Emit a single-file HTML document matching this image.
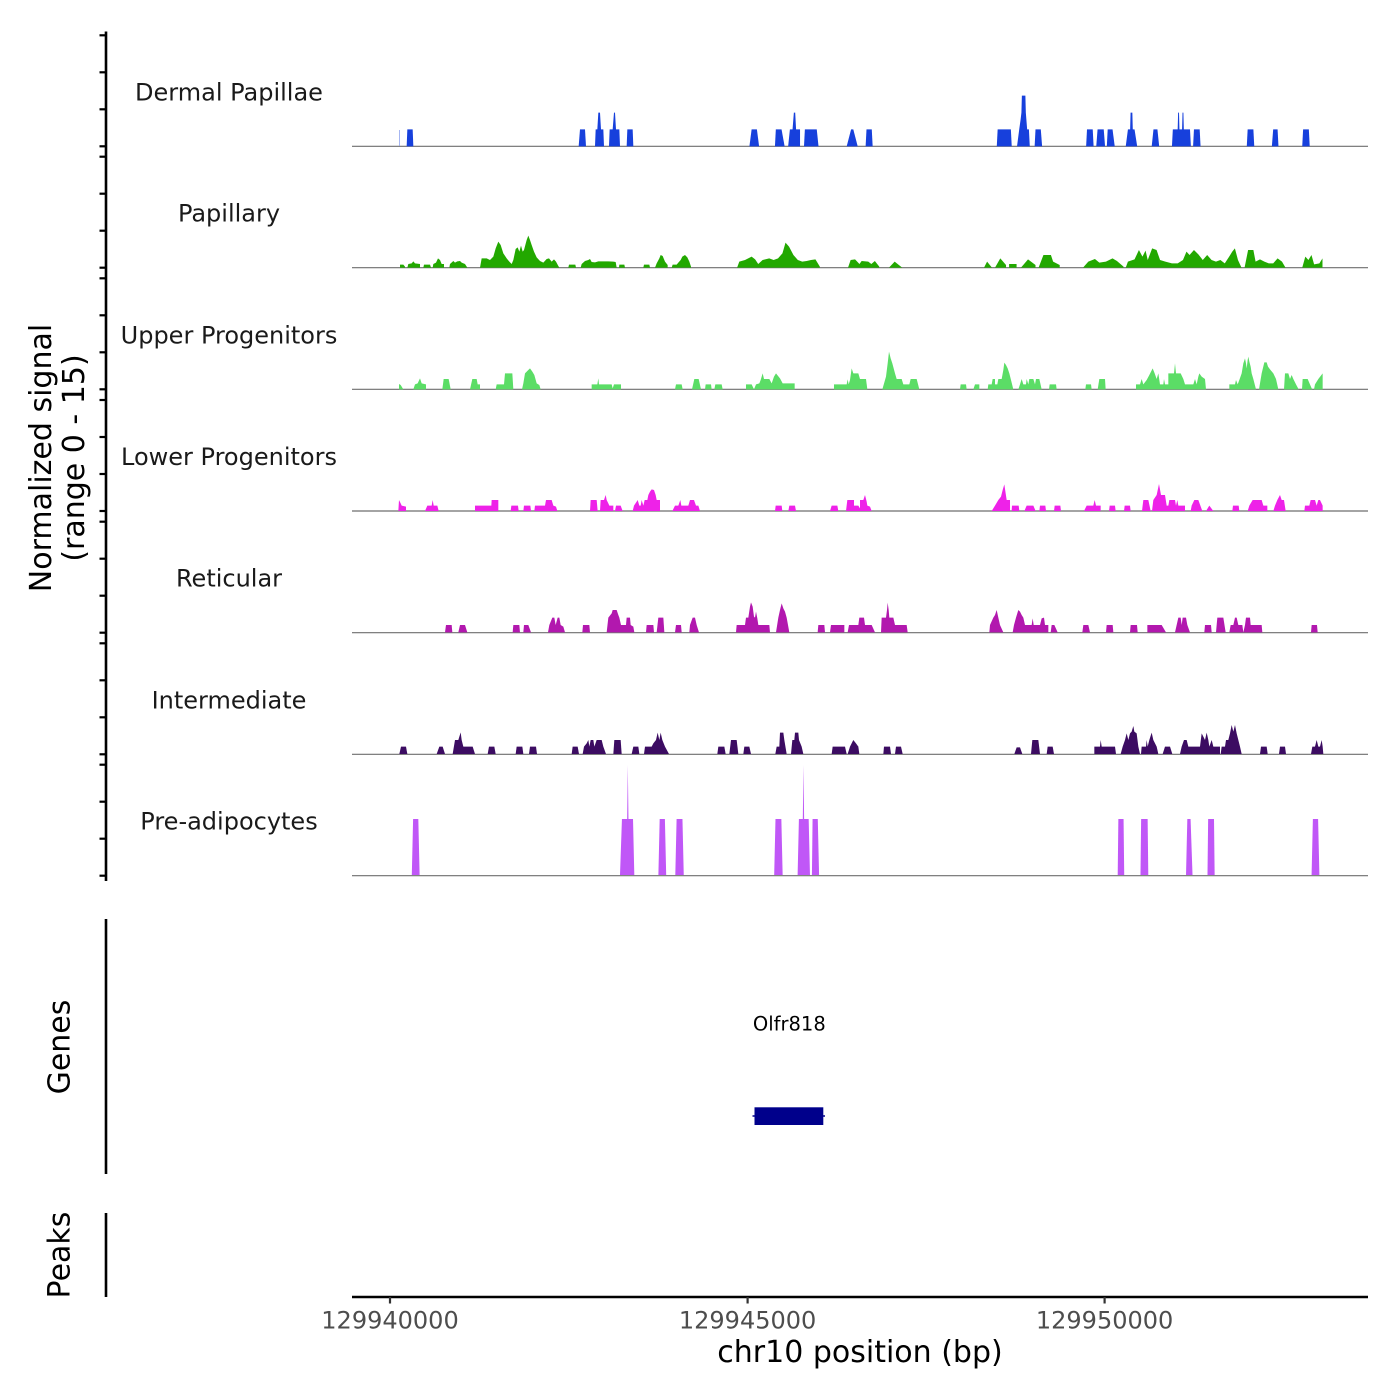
<!DOCTYPE html>
<html><head><meta charset="utf-8"><style>
html,body{margin:0;padding:0;background:#fff;}
svg{display:block;}
text{font-family:"DejaVu Sans","Liberation Sans",sans-serif;}
</style></head><body>
<svg width="1400" height="1400" viewBox="0 0 1400 1400" xmlns="http://www.w3.org/2000/svg">
<rect width="1400" height="1400" fill="#fff"/>

<!-- baselines -->
<g stroke="#6e6e6e" stroke-width="1.2">
<line x1="352" x2="1368" y1="146.3" y2="146.3"/>
<line x1="352" x2="1368" y1="267.7" y2="267.7"/>
<line x1="352" x2="1368" y1="389.3" y2="389.3"/>
<line x1="352" x2="1368" y1="511" y2="511"/>
<line x1="352" x2="1368" y1="632.7" y2="632.7"/>
<line x1="352" x2="1368" y1="754.3" y2="754.3"/>
<line x1="352" x2="1368" y1="875.7" y2="875.7"/>
</g>

<!-- Track 1: Dermal Papillae -->
<line x1="399.6" x2="399.6" y1="130" y2="146" stroke="#8fa3ee" stroke-width="0.8"/>
<g fill="#1740DC" transform="translate(350,60) scale(0.33333)">
<polygon points="170,259 172,208 188,208 190,259"/>
<polygon points="686,259 690,208 705,208 708,259"/>
<polygon points="735,259 737,208 742,208 745,158 750,158 753,208 760,208 762,259"/>
<polygon points="777,259 779,208 788,208 792,158 795,158 798,208 808,208 810,259"/>
<polygon points="830,259 832,208 848,208 850,259"/>
</g>
<g fill="#1740DC" transform="translate(690,60) scale(0.44014,0.33333)">
<polygon points="135,259 140,208 152,208 157,259"/>
<polygon points="193,259 195,208 208,208 215,259"/>
<polygon points="223,259 227,208 233,208 236,158 239,158 241,208 250,208 250,259"/>
<polygon points="259,259 261,208 288,208 292,259"/>
<polygon points="356,259 366,208 371,208 381,259"/>
<polygon points="399,259 401,208 413,208 415,259"/>
<polygon points="697,259 699,208 729,208 731,259"/>
<polygon points="743,259 748,208 751,180 753,158 754,107 762,107 763,158 766,208 770,208 772,259"/>
<polygon points="783,259 785,208 797,208 800,259"/>
<polygon points="900,259 902,208 915,208 917,259"/>
<polygon points="923,259 926,208 940,208 943,259"/>
<polygon points="947,259 949,208 960,208 965,259"/>
<polygon points="990,259 995,208 1000,208 1001,158 1005,158 1006,208 1010,208 1016,259"/>
<polygon points="1049,259 1053,208 1062,208 1066,259"/>
<polygon points="1095,259 1097,208 1108,208 1109,158 1111,158 1112,208 1118,208 1119,158 1121,158 1122,208 1136,208 1138,259"/>
<polygon points="1143,259 1145,208 1158,208 1160,259"/>
<polygon points="1265,259 1267,208 1280,208 1282,259"/>
<polygon points="1322,259 1325,208 1335,208 1337,259"/>
<polygon points="1391,259 1393,208 1406,208 1408,259"/>
</g>

<!-- Track 2: Papillary -->
<g fill="#22A800" transform="translate(350,60) scale(0.33333)">
<polygon points="150,623 150,614 160,614 165,620 165,623"/>
<polygon points="172,623 175,612 185,610 190,604 195,610 210,612 210,623"/>
<polygon points="220,623 222,614 240,614 243,623"/>
<polygon points="248,623 250,612 258,608 264,595 270,600 275,612 282,612 282,623"/>
<polygon points="298,623 300,612 310,603 315,608 322,604 330,603 335,608 345,612 352,623"/>
<polygon points="390,623 395,595 410,595 420,600 430,590 437,565 445,545 452,555 460,580 470,595 478,605 485,612 490,600 497,567 503,562 508,575 513,557 518,575 522,570 530,540 535,527 540,540 545,555 552,575 560,592 570,603 580,608 590,597 597,595 605,605 612,598 618,605 625,618 628,623"/>
<polygon points="655,623 657,614 676,614 678,623"/>
<polygon points="692,623 695,612 705,603 715,600 720,597 725,606 735,607 745,604 755,604 775,604 790,605 797,606 800,623"/>
<polygon points="807,623 808,614 823,614 825,623"/>
<polygon points="880,623 882,614 898,614 900,623"/>
<polygon points="915,623 920,610 928,595 932,585 938,588 945,605 953,615 953,623"/>
<polygon points="965,623 968,614 980,614 985,608 992,600 997,590 1005,585 1012,592 1018,605 1023,620 1023,623"/>
</g>
<g fill="#22A800" transform="translate(690,60) scale(0.44014,0.33333)">
<polygon points="107,623 112,605 125,600 140,590 148,598 155,612 165,600 180,595 190,600 200,595 210,580 217,548 225,560 235,585 245,600 255,605 265,603 275,600 285,598 295,620 295,623"/>
<polygon points="359,623 365,600 375,598 385,612 390,603 405,605 412,612 420,603 430,620 430,623"/>
<polygon points="452,623 465,605 482,623"/>
<polygon points="668,623 675,605 686,623"/>
<polygon points="693,623 705,595 718,615 718,623"/>
<polygon points="725,623 725,612 742,612 742,623"/>
<polygon points="752,623 768,598 785,615 785,623"/>
<polygon points="792,623 803,585 820,585 825,605 840,615 840,623"/>
<polygon points="893,623 905,605 920,597 930,608 945,605 960,595 970,603 985,620 985,623"/>
<polygon points="990,623 995,605 1010,598 1020,570 1028,590 1035,572 1040,600 1050,565 1060,570 1068,600 1080,605 1095,610 1108,610 1120,600 1128,575 1135,585 1145,570 1155,583 1165,600 1175,585 1185,600 1195,605 1205,600 1215,610 1225,590 1232,575 1238,565 1245,600 1253,623"/>
<polygon points="1260,623 1268,570 1280,570 1285,605 1295,598 1305,605 1315,610 1325,610 1335,595 1345,605 1353,623"/>
<polygon points="1391,623 1398,590 1405,600 1412,585 1418,613 1430,610 1437,595 1437,623"/>
</g>

<!-- Track 3: Upper Progenitors -->
<g fill="#5BDD66" transform="translate(350,330) scale(0.33333)">
<polygon points="147,178 147,162 152,165 160,178"/>
<polygon points="190,178 195,163 203,160 210,145 215,160 228,163 228,178"/>
<polygon points="277,178 281,147 296,147 302,178"/>
<polygon points="360,178 367,147 380,147 383,163 390,163 390,178"/>
<polygon points="437,178 440,163 462,163 465,130 487,130 490,178"/>
<polygon points="516,178 520,160 525,130 533,122 540,115 547,125 553,135 560,160 568,165 572,178"/>
<polygon points="725,178 725,163 742,163 745,145 747,163 785,163 788,175 792,163 813,163 813,178"/>
<polygon points="975,178 978,163 995,163 998,178"/>
<polygon points="1026,178 1033,147 1046,147 1053,178"/>
<polygon points="1065,178 1067,163 1083,163 1085,178"/>
<polygon points="1093,178 1096,163 1115,163 1118,178"/>
<polygon points="1188,178 1188,163 1205,163 1212,178 1218,163 1228,160 1232,150 1238,130 1242,147 1258,147 1265,160 1272,140 1278,130 1290,145 1298,160 1334,160 1334,178"/>
<polygon points="1452,178 1452,163 1490,163 1493,148 1496,163 1500,150 1505,115 1510,130 1525,130 1530,147 1530,178"/>
</g>
<g fill="#5BDD66" transform="translate(860,330) scale(0.33333)">
<polygon points="0,178 0,147 18,147 22,178"/>
<polygon points="67,178 78,140 83,100 87,65 92,85 97,100 105,130 110,147 125,147 130,163 148,163 152,147 170,147 178,178"/>
<polygon points="300,178 302,163 318,163 320,178"/>
<polygon points="340,178 345,163 358,163 358,178"/>
<polygon points="383,178 385,163 395,163 398,147 405,147 405,163 412,163 415,147 425,147 430,120 433,98 438,105 443,115 448,130 453,150 460,178"/>
<polygon points="475,178 480,163 485,147 490,163 498,163 500,147 505,163 508,147 520,147 525,163 528,147 538,147 545,178"/>
<polygon points="567,178 569,163 588,163 590,178"/>
<polygon points="676,178 678,163 693,163 695,178"/>
<polygon points="713,178 718,147 735,147 737,178"/>
<polygon points="828,178 828,163 840,163 845,147 850,163 860,150 868,135 878,115 884,130 890,147 895,130 900,163 910,163 912,147 915,163 925,163 925,130 942,130 945,100 948,130 962,130 970,147 975,163 1000,163 1005,147 1010,163 1015,140 1018,130 1025,140 1035,147 1038,178"/>
<polygon points="1108,178 1108,163 1125,163 1128,150 1133,163 1138,150 1145,130 1150,100 1155,85 1158,100 1160,115 1163,90 1165,80 1168,95 1172,110 1175,130 1180,147 1188,178"/>
<polygon points="1197,178 1205,130 1213,97 1220,97 1224,110 1230,118 1240,130 1248,147 1255,178"/>
<polygon points="1272,178 1275,130 1285,130 1290,147 1295,135 1300,147 1308,163 1316,178"/>
<polygon points="1326,178 1328,147 1343,147 1355,175 1358,178"/>
<polygon points="1362,178 1365,163 1375,147 1388,130 1388,178"/>
</g>

<!-- Track 4: Lower Progenitors -->
<g fill="#EE22E8" transform="translate(350,330) scale(0.33333)">
<polygon points="145,543 147,510 152,520 155,527 168,530 168,543"/>
<polygon points="225,543 232,527 245,527 248,510 251,527 262,527 266,543"/>
<polygon points="375,543 375,527 424,527 425,510 445,510 445,543"/>
<polygon points="482,543 484,527 504,527 506,543"/>
<polygon points="520,543 522,527 541,527 543,543"/>
<polygon points="553,543 555,527 585,527 588,510 605,510 610,527 618,530 622,543"/>
<polygon points="720,543 722,510 740,510 743,543"/>
<polygon points="750,543 752,510 762,510 767,495 770,510 775,520 778,527 790,527 790,543"/>
<polygon points="795,543 798,527 812,527 818,543"/>
<polygon points="848,543 852,527 860,515 863,510 868,527 872,527 875,510 880,527 884,510 892,510 895,495 900,485 905,478 912,480 917,495 920,510 930,510 930,543"/>
<polygon points="967,543 975,527 985,527 991,510 994,527 1015,527 1020,510 1032,510 1038,527 1045,527 1050,543"/>
<polygon points="1275,543 1277,527 1295,527 1297,543"/>
<polygon points="1315,543 1318,527 1335,527 1338,543"/>
<polygon points="1440,543 1445,527 1462,527 1465,543"/>
<polygon points="1488,543 1492,510 1512,510 1512,527 1525,527 1530,535 1530,543"/>
</g>
<g fill="#EE22E8" transform="translate(860,330) scale(0.33333)">
<polygon points="0,543 0,510 10,510 15,495 20,515 22,527 30,530 35,543"/>
<polygon points="395,543 405,527 415,510 423,500 428,480 433,463 437,490 440,510 450,510 450,543"/>
<polygon points="455,543 456,527 476,527 478,543"/>
<polygon points="493,543 500,527 520,527 527,543"/>
<polygon points="538,543 540,527 556,527 558,543"/>
<polygon points="582,543 584,527 601,527 603,543"/>
<polygon points="672,543 680,527 700,527 704,510 708,527 722,527 722,543"/>
<polygon points="747,543 749,527 765,527 767,543"/>
<polygon points="792,543 794,527 810,527 812,543"/>
<polygon points="846,543 850,510 865,510 872,543"/>
<polygon points="876,543 880,510 890,495 897,462 903,495 915,495 920,527 925,527 928,510 945,510 948,527 952,510 955,527 975,527 975,543"/>
<polygon points="992,543 995,527 1003,510 1015,510 1027,543"/>
<polygon points="1038,543 1048,527 1060,543"/>
<polygon points="1117,543 1119,527 1136,527 1138,543"/>
<polygon points="1163,543 1168,527 1178,510 1205,510 1210,527 1222,527 1222,543"/>
<polygon points="1240,543 1245,527 1252,510 1260,495 1265,510 1272,510 1277,543"/>
<polygon points="1333,543 1335,527 1348,527 1352,510 1365,510 1370,527 1375,510 1380,510 1388,527 1388,543"/>
</g>

<!-- Track 5: Reticular -->
<g fill="#B218AE" transform="translate(350,580) scale(0.33333)">
<polygon points="285,157 288,135 305,135 307,157"/>
<polygon points="325,157 330,135 345,135 352,157"/>
<polygon points="488,157 490,135 508,135 510,157"/>
<polygon points="520,157 522,135 535,135 543,157"/>
<polygon points="594,157 598,135 607,113 613,113 617,135 623,113 628,113 632,135 640,140 645,157"/>
<polygon points="697,157 699,135 718,135 720,157"/>
<polygon points="770,157 775,113 785,100 788,90 800,90 805,105 808,113 813,135 828,135 830,113 840,113 842,135 850,140 853,157"/>
<polygon points="888,157 890,135 910,135 912,157"/>
<polygon points="920,157 925,113 940,113 943,157"/>
<polygon points="975,157 978,135 993,135 995,157"/>
<polygon points="1018,157 1020,135 1028,113 1035,113 1040,135 1047,157"/>
<polygon points="1158,157 1160,135 1185,135 1188,113 1195,113 1200,80 1203,67 1208,80 1212,110 1215,113 1218,95 1222,115 1225,135 1258,135 1260,157"/>
<polygon points="1278,157 1285,113 1290,90 1295,70 1300,85 1305,95 1310,113 1318,157"/>
<polygon points="1403,157 1405,135 1423,135 1425,157"/>
<polygon points="1440,157 1443,135 1483,135 1483,157"/>
<polygon points="1493,157 1497,135 1525,135 1528,113 1530,113 1530,157"/>
</g>
<g fill="#B218AE" transform="translate(860,580) scale(0.33333)">
<polygon points="0,157 0,113 12,113 15,135 35,135 45,157"/>
<polygon points="63,157 65,113 78,113 81,90 83,68 86,90 88,113 100,113 105,135 140,135 143,157"/>
<polygon points="388,157 390,135 400,113 405,105 410,90 415,113 420,135 430,157"/>
<polygon points="458,157 462,135 468,113 475,90 480,95 485,105 490,113 495,135 515,135 518,115 521,135 540,135 545,115 552,113 555,135 565,135 565,157"/>
<polygon points="572,157 575,135 583,135 593,157"/>
<polygon points="667,157 670,135 685,135 690,157"/>
<polygon points="738,157 740,135 758,135 760,157"/>
<polygon points="810,157 812,135 831,135 833,157"/>
<polygon points="862,157 862,135 905,135 918,157"/>
<polygon points="945,157 950,135 955,113 962,113 965,135 968,113 978,113 982,135 990,157"/>
<polygon points="1033,157 1035,135 1053,135 1055,157"/>
<polygon points="1068,157 1072,113 1090,113 1097,157"/>
<polygon points="1108,157 1112,135 1120,135 1125,113 1130,113 1135,135 1147,135 1150,157"/>
<polygon points="1150,157 1155,135 1158,113 1170,113 1172,135 1205,135 1207,157"/>
<polygon points="1353,157 1355,135 1371,135 1373,157"/>
</g>

<!-- Track 6: Intermediate -->
<g fill="#3C0C62" transform="translate(350,580) scale(0.33333)">
<polygon points="148,522 153,500 168,500 172,522"/>
<polygon points="260,522 268,500 278,500 285,522"/>
<polygon points="308,522 315,480 325,480 332,457 335,480 340,500 368,500 375,522"/>
<polygon points="413,522 417,500 433,500 437,522"/>
<polygon points="497,522 500,500 517,500 520,522"/>
<polygon points="537,522 540,500 558,500 561,522"/>
<polygon points="665,522 668,500 683,500 687,522"/>
<polygon points="698,522 702,500 710,490 715,480 718,500 722,480 730,480 733,500 740,480 755,480 760,500 768,522"/>
<polygon points="790,522 793,480 812,480 815,522"/>
<polygon points="845,522 850,500 865,500 868,522"/>
<polygon points="882,522 885,500 905,500 910,490 918,480 923,458 928,480 932,458 937,480 945,500 957,522"/>
<polygon points="1102,522 1105,500 1123,500 1127,522"/>
<polygon points="1138,522 1143,480 1160,480 1165,522"/>
<polygon points="1180,522 1183,500 1198,500 1203,522"/>
<polygon points="1276,522 1280,500 1288,500 1290,458 1300,458 1303,480 1310,522"/>
<polygon points="1323,522 1327,480 1333,480 1335,458 1345,458 1347,480 1355,500 1360,522"/>
<polygon points="1445,522 1448,500 1485,500 1490,522"/>
<polygon points="1493,522 1500,500 1510,480 1518,490 1525,500 1528,522"/>
</g>
<g fill="#3C0C62" transform="translate(860,580) scale(0.33333)">
<polygon points="70,522 72,500 90,500 93,522"/>
<polygon points="105,522 108,500 123,500 128,522"/>
<polygon points="463,522 470,502 480,502 487,522"/>
<polygon points="513,522 517,480 535,480 540,522"/>
<polygon points="560,522 563,500 578,500 582,522"/>
<polygon points="703,522 703,500 720,500 722,480 725,500 765,500 768,522"/>
<polygon points="782,522 788,500 795,480 800,460 805,480 810,460 815,455 820,438 823,455 830,460 835,500 840,522"/>
<polygon points="843,522 845,500 858,500 860,480 863,500 868,480 875,458 880,480 890,500 895,522"/>
<polygon points="908,522 915,500 930,500 937,522"/>
<polygon points="960,522 965,500 972,480 980,480 985,500 1020,500 1025,460 1030,470 1035,480 1040,458 1045,480 1048,500 1055,480 1060,500 1080,500 1080,522"/>
<polygon points="1082,522 1085,500 1095,500 1098,480 1105,480 1110,460 1115,435 1120,455 1125,435 1130,460 1140,500 1145,522"/>
<polygon points="1200,522 1203,500 1220,500 1223,522"/>
<polygon points="1257,522 1260,500 1275,500 1278,522"/>
<polygon points="1353,522 1357,500 1365,500 1370,480 1375,500 1380,500 1385,480 1388,500 1390,522"/>
</g>

<!-- Track 7: Pre-adipocytes -->
<g fill="#C057F7" transform="translate(350,755) scale(0.6506,0.33333)">
<polygon points="95,360 97,192 105,192 107,360"/>
<polygon points="415,360 418,192 426,192 427,30 428,192 435,192 437,360"/>
<polygon points="474,360 476,192 484,192 486,360"/>
<polygon points="500,360 502,192 511,192 513,360"/>
<polygon points="652,360 654,192 663,192 665,360"/>
<polygon points="688,360 690,192 696,192 697,30 698,192 705,192 707,360"/>
<polygon points="710,360 711,192 719,192 721,360"/>
<polygon points="1180,360 1181,192 1189,192 1190,360"/>
<polygon points="1215,360 1216,192 1226,192 1227,360"/>
<polygon points="1285,360 1287,192 1292,192 1295,360"/>
<polygon points="1318,360 1319,192 1328,192 1329,360"/>
<polygon points="1478,360 1480,192 1488,192 1490,360"/>
</g>

<!-- Y axis (signal) -->
<g stroke="#000" stroke-width="2.6">
<line x1="106" x2="106" y1="31.5" y2="881"/>
</g>
<g stroke="#000" stroke-width="2.2">
<line x1="99.5" x2="106" y1="146.3" y2="146.3"/><line x1="99.5" x2="106" y1="109.3" y2="109.3"/><line x1="99.5" x2="106" y1="72.3" y2="72.3"/><line x1="99.5" x2="106" y1="35.3" y2="35.3"/>
<line x1="99.5" x2="106" y1="267.7" y2="267.7"/><line x1="99.5" x2="106" y1="230.7" y2="230.7"/><line x1="99.5" x2="106" y1="193.7" y2="193.7"/><line x1="99.5" x2="106" y1="156.7" y2="156.7"/>
<line x1="99.5" x2="106" y1="389.3" y2="389.3"/><line x1="99.5" x2="106" y1="352.3" y2="352.3"/><line x1="99.5" x2="106" y1="315.3" y2="315.3"/><line x1="99.5" x2="106" y1="278.3" y2="278.3"/>
<line x1="99.5" x2="106" y1="511" y2="511"/><line x1="99.5" x2="106" y1="474" y2="474"/><line x1="99.5" x2="106" y1="437" y2="437"/><line x1="99.5" x2="106" y1="400" y2="400"/>
<line x1="99.5" x2="106" y1="632.7" y2="632.7"/><line x1="99.5" x2="106" y1="595.7" y2="595.7"/><line x1="99.5" x2="106" y1="558.7" y2="558.7"/><line x1="99.5" x2="106" y1="521.7" y2="521.7"/>
<line x1="99.5" x2="106" y1="754.3" y2="754.3"/><line x1="99.5" x2="106" y1="717.3" y2="717.3"/><line x1="99.5" x2="106" y1="680.3" y2="680.3"/><line x1="99.5" x2="106" y1="643.3" y2="643.3"/>
<line x1="99.5" x2="106" y1="875.7" y2="875.7"/><line x1="99.5" x2="106" y1="838.7" y2="838.7"/><line x1="99.5" x2="106" y1="801.7" y2="801.7"/><line x1="99.5" x2="106" y1="764.7" y2="764.7"/>
</g>

<!-- Genes / Peaks axes -->
<line x1="106" x2="106" y1="919" y2="1174" stroke="#000" stroke-width="2.6"/>
<line x1="106" x2="106" y1="1213" y2="1297" stroke="#000" stroke-width="2.6"/>

<!-- Bottom x axis -->
<line x1="352" x2="1368" y1="1297" y2="1297" stroke="#000" stroke-width="2.6"/>
<g stroke="#333" stroke-width="2.2">
<line x1="390" x2="390" y1="1297" y2="1303.5"/>
<line x1="747.6" x2="747.6" y1="1297" y2="1303.5"/>
<line x1="1104.6" x2="1104.6" y1="1297" y2="1303.5"/>
</g>
<g font-size="24" fill="#4D4D4D" text-anchor="middle">
<text x="390" y="1328.5">129940000</text>
<text x="747.6" y="1328.5">129945000</text>
<text x="1104.6" y="1328.5">129950000</text>
</g>
<text x="860" y="1362" font-size="30" text-anchor="middle" fill="#000">chr10 position (bp)</text>

<!-- Track labels -->
<g font-size="24" fill="#1A1A1A" text-anchor="middle">
<text x="229" y="100.3">Dermal Papillae</text>
<text x="229" y="221.7">Papillary</text>
<text x="229" y="343.3">Upper Progenitors</text>
<text x="229" y="465">Lower Progenitors</text>
<text x="229" y="586.7">Reticular</text>
<text x="229" y="708.3">Intermediate</text>
<text x="229" y="829.7">Pre-adipocytes</text>
</g>

<!-- Y axis titles -->
<g font-size="30" fill="#000" text-anchor="middle">
<text transform="translate(51,458) rotate(-90)">Normalized signal</text>
<text transform="translate(84,458) rotate(-90)">(range 0 - 15)</text>
<text transform="translate(69.5,1047) rotate(-90)">Genes</text>
<text transform="translate(69.5,1255) rotate(-90)">Peaks</text>
</g>

<!-- Gene -->
<text x="789.3" y="1030.5" font-size="19.5" text-anchor="middle" fill="#000">Olfr818</text>
<line x1="752.5" x2="825" y1="1116" y2="1116" stroke="#00008B" stroke-width="1.5"/>
<rect x="754.5" y="1107.3" width="68.8" height="17.7" fill="#00008B"/>
</svg>
</body></html>
